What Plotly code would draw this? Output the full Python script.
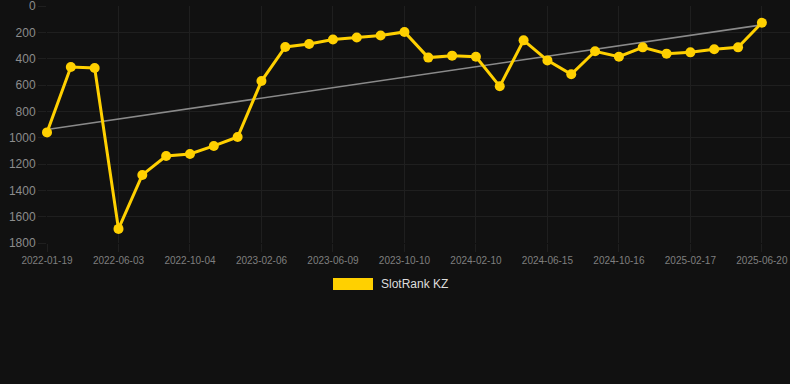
import numpy as np
import plotly.graph_objects as go

tick_labels = ["2022-01-19", "2022-06-03", "2022-10-04", "2023-02-06", "2023-06-09",
               "2023-10-10", "2024-02-10", "2024-06-15", "2024-10-16", "2025-02-17", "2025-06-20"]
rank = [960, 463, 471, 1693, 1283, 1139, 1124, 1063, 995, 570,
        311, 289, 254, 239, 224, 197, 392, 377, 385, 610,
        261, 413, 519, 344, 385, 314, 362, 352, 329, 314, 127]
series_name = "SlotRank KZ"

idx = np.arange(len(rank))
coef = np.polyfit(idx, rank, 1)
trend = np.polyval(coef, idx)

BG = "#111111"
GRID = "#1f1f1f"
GOLD = "#FFD000"

fig = go.Figure()
fig.add_trace(go.Scatter(x=idx, y=trend, mode="lines",
                         line=dict(color="#8a8a8a", width=1.6),
                         showlegend=False, hoverinfo="skip", cliponaxis=False))
fig.add_trace(go.Scatter(x=idx, y=rank, mode="lines+markers", name=series_name,
                         line=dict(color=GOLD, width=3),
                         marker=dict(color=GOLD, size=10),
                         showlegend=False, cliponaxis=False))

fig.update_layout(
    width=790, height=384,
    margin=dict(l=47, r=0, t=6, b=141),
    paper_bgcolor=BG, plot_bgcolor=BG,
    font=dict(family="Arial, Liberation Sans, sans-serif"),
    xaxis=dict(range=[0, 31.18], tickmode="array",
               tickvals=list(idx[::3]), ticktext=tick_labels,
               showgrid=True, gridcolor=GRID, gridwidth=1, zeroline=False,
               ticks="outside", ticklen=8, tickcolor=GRID,
               tickfont=dict(size=10, color="#7f7f7f"), showline=False),
    yaxis=dict(range=[1800, 0], tickmode="array",
               tickvals=[0, 200, 400, 600, 800, 1000, 1200, 1400, 1600, 1800],
               showgrid=True, gridcolor=GRID, gridwidth=1, zeroline=False,
               ticks="outside", ticklen=8, tickcolor=GRID,
               ticklabeloverflow="allow",
               tickfont=dict(size=12, color="#8c8c8c"), showline=False),
    shapes=[dict(type="rect", xref="paper", yref="paper",
                 x0=(333 - 47) / 743, x1=(373 - 47) / 743,
                 y0=(243 - 290) / 237, y1=(243 - 278) / 237,
                 fillcolor=GOLD, line=dict(width=0))],
    annotations=[dict(text=series_name, xref="paper", yref="paper",
                      x=(379 - 47) / 743, y=(243 - 284) / 237,
                      xanchor="left", yanchor="middle", showarrow=False,
                      font=dict(size=12, color="#dddddd"))],
)

fig.write_html("out.html")
